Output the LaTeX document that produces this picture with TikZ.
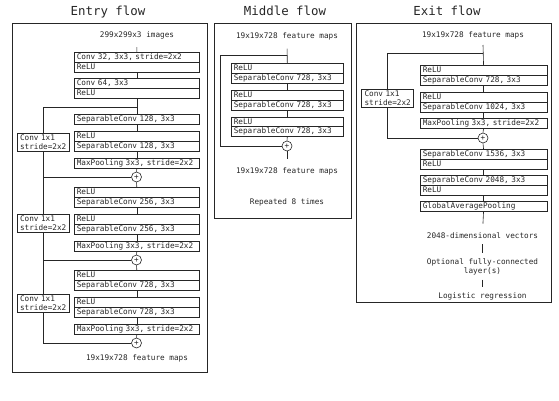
\documentclass[tikz,border=0pt]{standalone}
\usepackage{fontspec}
\setmonofont{DejaVu Sans Mono}
\newcommand{\rowfont}{\ttfamily\fontsize{7.7}{9}\selectfont}
\newcommand{\titlefont}{\ttfamily\fontsize{12.4}{14}\selectfont}

\begin{document}
\begin{tikzpicture}[x=1pt, y=-1pt, line width=0.6pt, color=black!85,
  layer/.style={draw, anchor=north west, text width=#1, inner xsep=2.5pt, inner ysep=0pt, minimum height=9.8pt, align=left, font=\rowfont},
  skipbox/.style={draw, text width=46pt, inner xsep=3pt, inner ysep=1.5pt, align=left, font=\rowfont},
  addnode/.style={draw, circle, minimum size=10pt, inner sep=0pt, font=\rowfont},
  flowtitle/.style={font=\titlefont},
  note/.style={font=\rowfont, inner sep=0pt, align=center}]
\useasboundingbox (0,0) rectangle (559,400);
% Panels
\draw (12,23) rectangle (207,372);
\draw (214,23) rectangle (351,218);
\draw (356,23) rectangle (551,302);
\node[flowtitle] (tentry) at (108,12) {Entry flow};
\node[flowtitle] (tmid) at (285,11) {Middle flow};
\node[flowtitle] (texit) at (447,11) {Exit flow};

% Entry flow
\node[note] (img) at (137,35) {299x299x3 images};
\node[layer=120pt] (conv32) at (74,52) {Conv 32, 3x3, stride=2x2};
\node[layer=120pt] (relu1) at (74,61.8) {ReLU};
\node[layer=120pt] (conv64) at (74,78) {Conv 64, 3x3};
\node[layer=120pt] (relu2) at (74,87.8) {ReLU};
\coordinate (br1) at (136.5,107);
\node[layer=120pt] (sep128a) at (74,114) {SeparableConv 128, 3x3};
\node[layer=120pt] (relu3) at (74,131) {ReLU};
\node[layer=120pt] (sep128b) at (74,140.8) {SeparableConv 128, 3x3};
\node[layer=120pt] (mp1) at (74,158) {MaxPooling 3x3, stride=2x2};
\node[addnode] (add1) at (136.5,177) {+};
\node[skipbox] (skip1) at (43,142) {Conv 1x1\\stride=2x2};
\node[layer=120pt] (relu4) at (74,187) {ReLU};
\node[layer=120pt] (sep256a) at (74,196.8) {SeparableConv 256, 3x3};
\node[layer=120pt] (relu5) at (74,214) {ReLU};
\node[layer=120pt] (sep256b) at (74,223.8) {SeparableConv 256, 3x3};
\node[layer=120pt] (mp2) at (74,241) {MaxPooling 3x3, stride=2x2};
\node[addnode] (add2) at (136.5,260) {+};
\node[skipbox] (skip2) at (43,223.5) {Conv 1x1\\stride=2x2};
\node[layer=120pt] (relu6) at (74,270) {ReLU};
\node[layer=120pt] (sep728a) at (74,279.8) {SeparableConv 728, 3x3};
\node[layer=120pt] (relu7) at (74,297) {ReLU};
\node[layer=120pt] (sep728b) at (74,306.8) {SeparableConv 728, 3x3};
\node[layer=120pt] (mp3) at (74,324) {MaxPooling 3x3, stride=2x2};
\node[addnode] (add3) at (136.5,343) {+};
\node[skipbox] (skip3) at (43,303) {Conv 1x1\\stride=2x2};
\node[note] (entryout) at (137,358) {19x19x728 feature maps};
% Entry connectors
\draw[shorten <=8pt] (img.south) -- (conv32.north);
\draw (relu1.south) -- (conv64.north);
\draw (relu2.south) -- (sep128a.north);
\draw (br1) -| (skip1.north);
\draw (sep128a.south) -- (relu3.north);
\draw (sep128b.south) -- (mp1.north);
\draw (mp1.south) -- (add1.north);
\draw (skip1.south) |- (add1.west);
\draw (add1.south) -- (relu4.north);
\draw (skip1.south |- add1.west) -- (skip2.north);
\draw (sep256a.south) -- (relu5.north);
\draw (sep256b.south) -- (mp2.north);
\draw (mp2.south) -- (add2.north);
\draw (skip2.south) |- (add2.west);
\draw (add2.south) -- (relu6.north);
\draw (skip2.south |- add2.west) -- (skip3.north);
\draw (sep728a.south) -- (relu7.north);
\draw (sep728b.south) -- (mp3.north);
\draw (mp3.south) -- (add3.north);
\draw (skip3.south) |- (add3.west);

% Middle flow
\node[note] (midin) at (287,36) {19x19x728 feature maps};
\coordinate (brm) at (287,55);
\coordinate (cm) at (220,55);
\node[layer=107pt] (m1relu) at (231,63) {ReLU};
\node[layer=107pt] (m1sep) at (231,72.8) {SeparableConv 728, 3x3};
\node[layer=107pt] (m2relu) at (231,90) {ReLU};
\node[layer=107pt] (m2sep) at (231,99.8) {SeparableConv 728, 3x3};
\node[layer=107pt] (m3relu) at (231,116.5) {ReLU};
\node[layer=107pt] (m3sep) at (231,126.3) {SeparableConv 728, 3x3};
\node[addnode] (addm) at (287,146) {+};
\node[note] (midout) at (287,171) {19x19x728 feature maps};
\node[note] (repeat) at (287,202) {Repeated 8 times};
% Middle connectors
\draw[shorten <=8.5pt] (midin.south) -- (m1relu.north);
\draw (brm) -- (cm) |- (addm.west);
\draw (m1sep.south) -- (m2relu.north);
\draw (m2sep.south) -- (m3relu.north);
\draw (m3sep.south) -- (addm.north);
\draw[shorten >=7.5pt] (addm.south) -- (midout.north);

% Exit flow
\node[note] (exin) at (473,35) {19x19x728 feature maps};
\coordinate (extop) at (483,45);
\coordinate (bre) at (483,53);
\node[layer=121.5pt] (e1relu) at (420,65) {ReLU};
\node[layer=121.5pt] (e1sep) at (420,74.8) {SeparableConv 728, 3x3};
\node[layer=121.5pt] (e2relu) at (420,92) {ReLU};
\node[layer=121.5pt] (e2sep) at (420,101.8) {SeparableConv 1024, 3x3};
\node[layer=121.5pt] (mpe) at (420,118) {MaxPooling 3x3, stride=2x2};
\node[skipbox] (skipe) at (387.5,98) {Conv 1x1\\stride=2x2};
\node[addnode] (adde) at (483,138) {+};
\node[layer=121.5pt] (e3sep) at (420,149) {SeparableConv 1536, 3x3};
\node[layer=121.5pt] (e3relu) at (420,158.8) {ReLU};
\node[layer=121.5pt] (e4sep) at (420,175) {SeparableConv 2048, 3x3};
\node[layer=121.5pt] (e4relu) at (420,184.8) {ReLU};
\node[layer=121.5pt] (gap) at (420,201) {GlobalAveragePooling};
\node[note] (vec) at (482.5,236) {2048-dimensional vectors};
\node[note] (fc) at (482.5,267) {Optional fully-connected\\layer(s)};
\node[note] (logreg) at (482.5,296) {Logistic regression};
% Exit connectors
\draw (extop) -- (e1relu.north);
\draw (bre) -| (skipe.north);
\draw (e1sep.south) -- (e2relu.north);
\draw (e2sep.south) -- (mpe.north);
\draw (mpe.south) -- (adde.north);
\draw (skipe.south) |- (adde.west);
\draw (adde.south) -- (e3sep.north);
\draw (e3relu.south) -- (e4sep.north);
\draw (e4relu.south) -- (gap.north);
\draw[shorten >=9pt] (gap.south) -- (vec.north);
\draw[shorten <=5pt, shorten >=5pt] (vec.south) -- (fc.north);
\draw[shorten <=4pt, shorten >=5pt] (fc.south) -- (logreg.north);
\end{tikzpicture}
\end{document}
